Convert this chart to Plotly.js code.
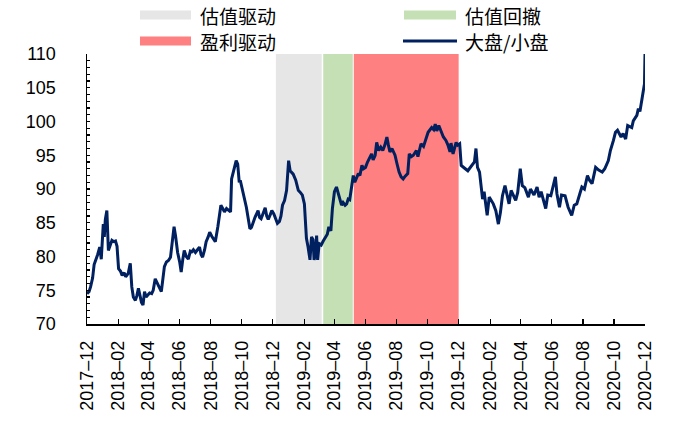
<!DOCTYPE html>
<html>
<head>
<meta charset="utf-8">
<script src="https://cdn.plot.ly/plotly-3.0.1.min.js"></script>
<style>html,body{margin:0;padding:0;background:#fff;}#chart{width:675px;height:437px;}</style>
</head>
<body>
<div id="chart"></div>
<script>
// ---- Data ----
const dates = [
"2017-12-01","2017-12-05","2017-12-08","2017-12-12","2017-12-15","2017-12-19","2017-12-22","2017-12-26","2017-12-29",
"2018-01-02","2018-01-04","2018-01-06","2018-01-09","2018-01-12","2018-01-16","2018-01-19","2018-01-23","2018-01-26","2018-01-29",
"2018-02-01","2018-02-05","2018-02-08","2018-02-12","2018-02-15","2018-02-20","2018-02-24","2018-02-27",
"2018-03-02","2018-03-06","2018-03-09","2018-03-12","2018-03-15","2018-03-18","2018-03-21","2018-03-24","2018-03-27","2018-03-30",
"2018-04-03","2018-04-07","2018-04-10","2018-04-14","2018-04-18","2018-04-22","2018-04-26",
"2018-05-02","2018-05-06","2018-05-10","2018-05-14","2018-05-18","2018-05-21","2018-05-24","2018-05-28",
"2018-06-01","2018-06-04","2018-06-07","2018-06-10","2018-06-14","2018-06-18","2018-06-22","2018-06-25","2018-06-28",
"2018-07-02","2018-07-06","2018-07-10","2018-07-13","2018-07-16","2018-07-20","2018-07-23","2018-07-27","2018-07-30",
"2018-08-03","2018-08-06","2018-08-10","2018-08-15","2018-08-18","2018-08-21","2018-08-24","2018-08-28",
"2018-09-01","2018-09-05","2018-09-09","2018-09-11","2018-09-14","2018-09-18","2018-09-20","2018-09-23","2018-09-26","2018-09-28",
"2018-10-05","2018-10-10","2018-10-14","2018-10-17","2018-10-20","2018-10-23","2018-10-27",
"2018-11-02","2018-11-05","2018-11-08","2018-11-12","2018-11-16","2018-11-19","2018-11-22","2018-11-26","2018-11-29",
"2018-12-03","2018-12-06","2018-12-10","2018-12-14","2018-12-17","2018-12-20","2018-12-24","2018-12-28",
"2019-01-01","2019-01-04","2019-01-10","2019-01-15","2019-01-18","2019-01-20","2019-01-24","2019-01-28",
"2019-02-01","2019-02-05","2019-02-08","2019-02-12","2019-02-15","2019-02-18","2019-02-20","2019-02-23","2019-02-25","2019-02-27",
"2019-03-02","2019-03-06","2019-03-10","2019-03-14","2019-03-18","2019-03-21","2019-03-25","2019-03-28",
"2019-04-01","2019-04-05","2019-04-08","2019-04-11","2019-04-15","2019-04-18","2019-04-22","2019-04-25","2019-04-28",
"2019-05-01","2019-05-05","2019-05-08","2019-05-11","2019-05-14","2019-05-18","2019-05-21","2019-05-25","2019-05-28",
"2019-06-01","2019-06-05","2019-06-08","2019-06-13","2019-06-16","2019-06-20","2019-06-23","2019-06-27",
"2019-07-01","2019-07-05","2019-07-09","2019-07-13","2019-07-16","2019-07-19","2019-07-23","2019-07-29",
"2019-08-02","2019-08-06","2019-08-10","2019-08-14","2019-08-18","2019-08-23","2019-08-26","2019-08-30",
"2019-09-03","2019-09-09","2019-09-12","2019-09-18","2019-09-23","2019-09-27",
"2019-10-02","2019-10-09","2019-10-13","2019-10-16","2019-10-19","2019-10-23","2019-10-27",
"2019-11-01","2019-11-06","2019-11-10","2019-11-14","2019-11-16","2019-11-20","2019-11-23","2019-11-26","2019-11-29",
"2019-12-03","2019-12-06","2019-12-10","2019-12-14","2019-12-19","2019-12-24","2019-12-29",
"2020-01-01","2020-01-04","2020-01-07","2020-01-11","2020-01-14","2020-01-17","2020-01-20","2020-01-26","2020-01-30",
"2020-02-07","2020-02-12","2020-02-17","2020-02-21","2020-02-25",
"2020-03-01","2020-03-05","2020-03-09","2020-03-13","2020-03-17","2020-03-22","2020-03-26","2020-03-31",
"2020-04-04","2020-04-09","2020-04-16","2020-04-20","2020-04-27",
"2020-05-03","2020-05-07","2020-05-11","2020-05-20","2020-05-24","2020-05-30",
"2020-06-08","2020-06-11","2020-06-16","2020-06-20","2020-06-27",
"2020-07-03","2020-07-10","2020-07-15","2020-07-20","2020-07-26","2020-07-30",
"2020-08-04","2020-08-10","2020-08-14","2020-08-19","2020-08-26",
"2020-09-01","2020-09-08","2020-09-13","2020-09-20","2020-09-24","2020-09-30",
"2020-10-04","2020-10-08","2020-10-15","2020-10-19","2020-10-24","2020-10-28","2020-10-31",
"2020-11-05","2020-11-08","2020-11-15","2020-11-18","2020-11-21","2020-11-25","2020-11-28","2020-11-30","2020-12-01"
];
const ratio = [
74.5,74.8,75.5,76.8,78.8,79.6,80.3,81.4,79.6,
84.8,82.9,85.5,86.8,80.9,81.8,82.4,82.2,82.3,81.5,
78.2,77.8,77.2,77.6,77.0,77.5,79.0,75.5,
74.0,73.5,74.2,75.3,74.0,73.2,72.8,74.8,74.0,74.3,
74.6,74.5,75.0,76.7,76.0,75.3,74.8,
78.5,79.2,79.4,79.9,82.5,84.4,83.0,80.6,
79.2,77.7,79.5,80.9,80.0,79.6,80.8,80.7,81.0,
80.6,81.0,81.4,80.3,79.9,81.0,82.2,82.9,83.6,
83.0,82.7,82.2,84.4,86.1,87.6,87.2,86.6,
87.1,86.8,86.6,91.5,92.5,93.6,94.2,93.7,91.0,91.3,
89.1,87.3,85.5,84.1,84.3,85.0,85.8,
86.8,85.8,85.6,86.5,87.2,86.0,85.5,86.2,86.8,
86.3,85.8,84.9,85.2,86.0,87.6,88.3,89.8,
94.2,92.7,92.2,91.3,90.2,89.8,89.5,89.1,
87.8,82.7,81.5,79.5,82.9,82.5,79.5,80.5,83.1,79.5,
81.9,81.7,82.3,82.9,83.3,84.4,83.8,87.1,
89.6,90.3,89.5,88.5,87.6,88.0,87.6,87.8,88.5,
88.4,90.2,92.0,91.0,91.6,92.3,92.0,93.5,93.0,
93.2,94.0,94.5,95.2,94.3,95.0,96.9,95.7,
96.2,95.7,96.5,97.7,96.5,95.5,96.0,95.0,
93.7,92.5,91.8,91.5,91.9,92.3,95.2,94.8,
95.0,95.7,94.8,96.7,96.3,97.2,
98.4,99.1,98.8,99.6,98.6,99.4,98.5,
97.7,97.2,96.5,95.5,96.8,95.2,96.2,96.9,96.5,
96.7,93.5,93.2,93.0,92.7,93.2,93.6,
94.0,96.0,93.2,92.5,90.8,88.5,89.6,86.1,88.8,
87.8,86.8,84.8,86.5,89.0,
90.5,89.2,87.8,89.8,89.0,88.3,89.5,93.0,
90.5,90.2,88.8,90.0,89.1,
90.3,88.8,89.6,87.1,89.1,89.0,
91.8,89.3,87.3,89.1,89.0,
87.3,86.1,87.6,87.8,89.3,90.3,
90.0,92.0,91.3,90.8,93.2,
92.8,92.5,93.0,94.2,95.7,97.2,
98.4,98.7,97.7,98.2,97.4,99.4,99.3,
99.1,100.1,100.9,101.9,101.5,103.3,104.6,105.6,110.0
];
const regionNames  = ["估值驱动", "估值回撤", "盈利驱动"];
const regionStart  = ["2018-12-07", "2019-03-10", "2019-05-09"];
const regionEnd    = ["2019-03-07", "2019-05-07", "2019-12-01"];
const regionColors = ["#E6E6E6", "#C5E0B4", "#FF8080"];
const lineName = "大盘/小盘";

// ---- Layout helpers ----
const W = 675, H = 437, L = 87, R = 30, T = 54, B = 113;
const pw = W - L - R, ph = H - T - B;
const px = x => (x - L) / pw;
const py = y => (H - B - y) / ph;

const shapes = regionNames.map((n, i) => ({
  type: "rect", xref: "x", yref: "paper", layer: "below",
  x0: regionStart[i], x1: regionEnd[i], y0: 0, y1: 1,
  fillcolor: regionColors[i], line: {width: 0}
}));

// legend (custom)
const legendPos = [
  {sx0: 140, sx1: 191, sy: 15, tx: 198},
  {sx0: 404, sx1: 456, sy: 15, tx: 463},
  {sx0: 140, sx1: 191, sy: 41, tx: 198}
];
const annotations = [];
regionNames.forEach((n, i) => {
  const p = legendPos[i];
  shapes.push({type: "rect", xref: "paper", yref: "paper",
    x0: px(p.sx0), x1: px(p.sx1), y0: py(p.sy + 4.5), y1: py(p.sy - 4.5),
    fillcolor: regionColors[i], line: {width: 0}});
  annotations.push({xref: "paper", yref: "paper", x: px(p.tx), y: py(p.sy),
    xanchor: "left", yanchor: "middle", showarrow: false, text: n,
    font: {family: "Noto Sans CJK SC", size: 19, color: "#000"}});
});
shapes.push({type: "line", xref: "paper", yref: "paper",
  x0: px(403), x1: px(457), y0: py(41), y1: py(41),
  line: {color: "#002060", width: 3}});
annotations.push({xref: "paper", yref: "paper", x: px(463), y: py(41),
  xanchor: "left", yanchor: "middle", showarrow: false, text: lineName,
  font: {family: "Noto Sans CJK SC", size: 19, color: "#000"}});

const trace = {
  type: "scatter", mode: "lines", x: dates, y: ratio, name: lineName,
  line: {color: "#002060", width: 3}, showlegend: false, hoverinfo: "skip"
};

const layout = {
  width: W, height: H,
  margin: {l: L, r: R, t: T, b: B, pad: 0},
  paper_bgcolor: "#fff", plot_bgcolor: "rgba(0,0,0,0)",
  showlegend: false,
  font: {family: "Liberation Sans, Arial, sans-serif", size: 18, color: "#000"},
  xaxis: {
    type: "date", range: ["2017-12-01", "2020-12-01"],
    tick0: "2017-12-01", dtick: "M2", tickformat: "%Y–%m",
    tickangle: -90, ticks: "inside", ticklen: 5, tickwidth: 1.3, tickcolor: "#000",
    ticklabelstandoff: 8,
    showline: true, linecolor: "#000", linewidth: 1.5, showgrid: false, zeroline: false,
    tickfont: {size: 18}
  },
  yaxis: {
    range: [70, 110], tick0: 70, dtick: 5,
    ticks: "inside", ticklen: 3, tickwidth: 1.3, tickcolor: "#000",
    minor: {dtick: 1, ticks: "inside", ticklen: 3, tickwidth: 1.3, tickcolor: "#000", showgrid: false},
    ticklabelstandoff: 26,
    showline: true, linecolor: "#000", linewidth: 1.5, showgrid: false, zeroline: false,
    tickfont: {size: 18}
  },
  shapes: shapes, annotations: annotations
};

Plotly.newPlot("chart", [trace], layout, {displayModeBar: false, staticPlot: true});
</script>
</body>
</html>
